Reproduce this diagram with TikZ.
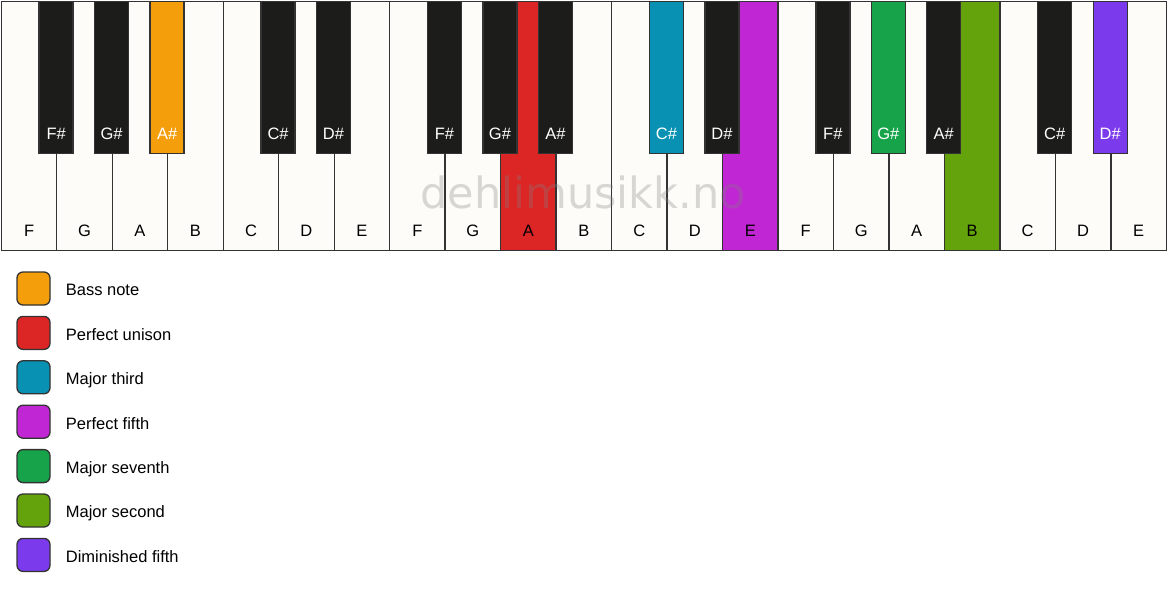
\documentclass[tikz,border=0pt]{standalone}
\usepackage{fontspec}
\setmainfont{Liberation Sans}
\newfontfamily\markfont{DejaVu Sans}
\usetikzlibrary{positioning}
\definecolor{keyline}{HTML}{333333}
\definecolor{ivory}{HTML}{FDFCF8}
\definecolor{ebony}{HTML}{1C1C1A}
\definecolor{bassc}{HTML}{F59E0B}
\definecolor{unisonc}{HTML}{DC2626}
\definecolor{thirdc}{HTML}{0891B2}
\definecolor{fifthc}{HTML}{C026D3}
\definecolor{seventhc}{HTML}{16A34A}
\definecolor{secondc}{HTML}{65A30D}
\definecolor{dimc}{HTML}{7C3AED}
\newcommand{\keyw}{55.48}
\tikzset{
  whitekey/.style={draw=keyline, line width=1.3pt, minimum width=55.48pt,
    minimum height=249.35pt, inner sep=0pt, anchor=north west},
  blackkey/.style={draw=keyline, line width=1.3pt, minimum width=34pt,
    minimum height=152.35pt, inner sep=0pt, anchor=north},
  swatch/.style={draw=keyline, line width=1.3pt, rounded corners=6pt,
    minimum size=33pt, inner sep=0pt},
  keyfont/.style={font=\fontsize{16.5}{19}\selectfont},
  wlabel/.style={keyfont, text=black, inner sep=0pt},
  blabel/.style={keyfont, text=white, inner sep=0pt},
  legtext/.style={keyfont, text=black, inner sep=0pt, anchor=west,
    text height=11.8pt, text depth=0pt},
}
\begin{document}
\begin{tikzpicture}[x=1pt,y=-1pt]
  \useasboundingbox (0,0) rectangle (1167,594);
  % white keys
  \foreach \n/\c [count=\i from 0] in {F/ivory,G/ivory,A/ivory,B/ivory,C/ivory,D/ivory,E/ivory,
      F/ivory,G/ivory,A/unisonc,B/ivory,C/ivory,D/ivory,E/fifthc,
      F/ivory,G/ivory,A/ivory,B/secondc,C/ivory,D/ivory,E/ivory} {
    \node[whitekey, fill=\c] (w\i) at (\i*\keyw+0.65, 0.65) {};
    \node[wlabel] (wl\i) at ([yshift=20pt]w\i.south) {\n};
  }
  % black keys, centred on the key boundaries
  \foreach \j/\n/\c in {1/F/ebony,2/G/ebony,3/A/bassc,5/C/ebony,6/D/ebony,
      8/F/ebony,9/G/ebony,10/A/ebony,12/C/thirdc,13/D/ebony,
      15/F/ebony,16/G/seventhc,17/A/ebony,19/C/ebony,20/D/dimc} {
    \node[blackkey, fill=\c] (b\j) at (\j*\keyw+0.65, 0.65) {};
    \node[blabel] (bl\j) at ([yshift=20pt]b\j.south) {\n\#};
  }
  % watermark
  \node[font=\markfont\fontsize{43}{50}\selectfont, text=gray, text opacity=0.3,
    inner sep=0pt, anchor=base] (mark) at (583,208) {dehlimusikk.no};
  % legend
  \foreach \c/\t [count=\k] in {bassc/Bass note, unisonc/Perfect unison,
      thirdc/Major third, fifthc/Perfect fifth, seventhc/Major seventh,
      secondc/Major second, dimc/Diminished fifth} {
    \node[swatch, fill=\c] (s\k) at (33.5, 244.1+44.4*\k) {};
    \node[legtext, right=15pt of s\k, yshift=-1.5pt] (t\k) {\t};
  }
\end{tikzpicture}
\end{document}
